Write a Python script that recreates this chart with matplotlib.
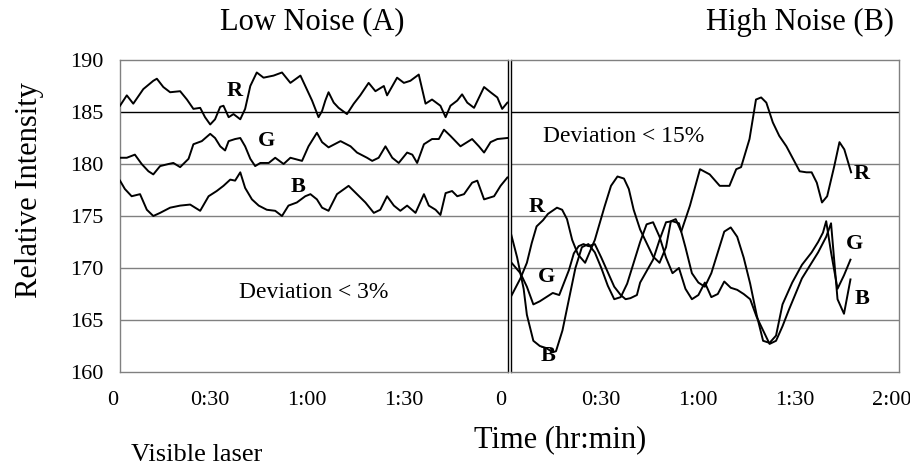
import matplotlib
matplotlib.use("Agg")
import matplotlib.pyplot as plt
import matplotlib.transforms as mtransforms

plt.rcParams['font.family'] = ['Liberation Serif', 'DejaVu Serif']

# time in minutes, intensity values
low_r_t = [0, 2.1, 4.1, 7.2, 10.3, 11.4, 13.4, 15.5, 18.6, 20.7, 22.7, 24.8, 26.3, 27.9, 29.4, 31.0,
           32.0, 33.6, 35.1, 37.2, 38.7, 40.3, 42.3, 44.4, 47.5, 50.1, 52.7, 55.8, 57.3, 59.4, 61.4,
           62.5, 63.5, 64.5, 66.1, 67.6, 70.2, 72.3, 74.3, 76.9, 79.0, 81.6, 82.6, 85.7, 87.8, 89.8,
           92.4, 94.5, 96.5, 99.1, 100.7, 102.2, 104.3, 105.8, 107.4, 109.5, 112.6, 114.6, 116.7,
           118.2, 119.8]
low_r = [185.6, 186.6, 185.8, 187.2, 188.0, 188.2, 187.4, 186.9, 187.0, 186.2, 185.3, 185.4, 184.5,
         183.8, 184.3, 185.5, 185.6, 184.5, 184.8, 184.3, 185.3, 187.5, 188.8, 188.3, 188.5, 188.8,
         187.8, 188.5, 187.5, 186.1, 184.5, 185.1, 186.1, 186.9, 185.9, 185.4, 184.8, 185.8, 186.6,
         187.8, 187.0, 187.5, 186.6, 188.3, 187.8, 188.0, 188.6, 185.8, 186.2, 185.6, 184.5, 185.6,
         186.1, 186.7, 185.9, 185.4, 187.4, 186.9, 186.4, 185.3, 185.9]

low_g_t = [0, 2.1, 4.6, 6.7, 8.8, 10.3, 12.4, 15.0, 16.5, 18.6, 21.2, 22.7, 25.3, 27.9, 29.4, 31.0,
           32.5, 33.6, 35.6, 37.2, 38.7, 40.3, 41.8, 43.4, 46.0, 48.0, 50.6, 52.7, 56.3, 58.3, 60.9,
           62.5, 64.5, 68.2, 71.3, 73.3, 76.4, 78.0, 80.0, 82.1, 84.2, 86.2, 88.8, 90.4, 91.9, 94.0,
           96.5, 98.6, 100.2, 102.2, 105.3, 108.9, 111.0, 112.6, 114.6, 116.7, 119.8]
low_g = [180.6, 180.6, 180.9, 180.0, 179.3, 179.0, 179.8, 180.0, 180.1, 179.7, 180.5, 181.9, 182.2,
         182.9, 182.5, 181.7, 181.3, 182.2, 182.4, 182.5, 181.7, 180.5, 179.8, 180.1, 180.1, 180.6,
         180.0, 180.6, 180.3, 181.7, 183.0, 182.1, 181.6, 182.2, 181.7, 181.1, 180.6, 180.3, 180.6,
         181.7, 180.6, 180.1, 181.1, 180.9, 180.1, 181.9, 182.4, 182.4, 183.3, 182.7, 181.7, 182.4,
         181.7, 181.1, 182.1, 182.4, 182.5]

low_b_t = [0, 1.5, 3.6, 6.2, 8.3, 10.3, 12.4, 15.5, 18.6, 21.7, 24.8, 27.4, 29.9, 32.0, 34.1, 35.6,
           37.2, 38.7, 40.8, 42.9, 45.4, 48.0, 50.1, 52.1, 54.7, 57.3, 58.9, 60.9, 62.5, 64.5, 67.1,
           70.7, 73.3, 75.9, 78.5, 80.5, 82.6, 84.7, 86.7, 88.8, 91.4, 94.0, 95.5, 97.6, 99.1, 100.7,
           102.7, 104.3, 106.4, 108.9, 110.5, 112.6, 115.7, 117.7, 119.8]
low_b = [178.4, 177.6, 176.9, 177.1, 175.6, 175.0, 175.3, 175.8, 176.0, 176.1, 175.5, 176.9, 177.4,
         177.9, 178.5, 178.4, 179.2, 177.7, 176.6, 176.0, 175.6, 175.5, 175.0, 176.0, 176.3, 176.9,
         177.1, 176.6, 175.8, 175.5, 177.1, 177.9, 177.1, 176.3, 175.3, 175.6, 176.9, 176.0, 175.5,
         176.0, 175.3, 177.1, 176.0, 175.6, 175.1, 177.2, 177.4, 176.9, 177.1, 178.2, 178.4, 176.6,
         176.9, 177.9, 178.7]

high_r_t = [0, 3, 5, 6.5, 8, 10, 11.5, 14.3, 15.9, 17.4, 19, 20.8, 23, 26, 29, 31, 33, 35, 36.5,
            38, 40, 42, 44, 46, 48, 49.5, 51, 52.7, 55.4, 58.5, 61.5, 64.6, 67.6, 69.7, 71.2, 73.8,
            75.8, 77.4, 79, 81, 83, 85.2, 89.3, 91.4, 93, 94.6, 96.2, 97.8, 100, 101.6, 103.1, 105.2]
high_r = [167.2, 169.0, 170.5, 172.4, 174.0, 174.6, 175.2, 175.8, 175.6, 174.7, 172.7, 171.3, 170.5,
          172.7, 175.9, 177.9, 178.8, 178.6, 177.6, 175.6, 173.7, 172.4, 171.1, 170.5, 172.0, 174.5,
          174.7, 173.5, 176.0, 179.5, 179.0, 177.9, 177.9, 179.5, 179.7, 182.4, 186.2, 186.4, 185.9,
          184.0, 182.7, 181.7, 179.3, 179.2, 179.2, 178.2, 176.3, 176.9, 179.8, 182.1, 181.4, 179.2]

high_g_t = [0, 3, 5, 7, 9, 11, 13, 15, 16, 18, 19.5, 21, 22.5, 24, 26, 28, 30, 32, 34, 35.5, 37, 39,
            40, 42, 44, 46, 48, 50, 52, 54, 56, 58, 60, 62, 64, 66, 68, 70, 72, 74, 76, 78, 80, 82,
            84, 87, 90, 93, 95, 96.5, 97.5, 99, 101, 103, 105]
high_g = [170.6, 169.5, 168.2, 166.5, 166.8, 167.2, 167.6, 167.4, 168.2, 169.8, 171.4, 172.1, 172.3,
          172.1, 172.3, 171.0, 169.6, 168.2, 167.4, 167.0, 167.1, 167.4, 168.6, 169.7, 170.8, 172.7,
          174.4, 174.5, 174.3, 172.0, 169.5, 168.6, 168.2, 169.5, 171.5, 173.5, 173.9, 173.0, 171.0,
          168.5, 165.5, 163.0, 162.8, 163.5, 166.5, 168.6, 170.3, 171.5, 172.5, 173.4, 174.5, 171.5,
          168.0, 169.3, 170.8]

high_b_t = [0, 2, 4, 5, 7, 9, 11, 13, 14, 16, 18, 20, 22, 24, 26, 28, 30, 32, 34, 36, 38, 40, 42,
            44, 46, 48, 50, 52, 54, 56, 58, 60, 62, 64, 66, 68, 70, 72, 74, 76, 78, 80, 82, 84, 86,
            88, 90, 93, 95, 97.5, 99, 101, 103, 105]
high_b = [173.4, 171.0, 168.0, 165.5, 163.0, 162.5, 162.3, 161.9, 162.0, 164.0, 167.0, 170.0, 172.0,
          172.3, 171.5, 170.0, 168.3, 167.0, 167.2, 168.5, 170.5, 172.5, 174.2, 174.4, 173.0, 171.0,
          169.5, 170.0, 168.0, 167.0, 167.4, 168.6, 167.2, 167.5, 168.7, 168.1, 167.9, 167.5, 167.0,
          165.3, 164.0, 162.7, 163.0, 164.4, 166.0, 167.5, 169.0, 170.5, 171.5, 173.0, 174.3, 167.0,
          165.6, 168.9]

y_ticks = [160, 165, 170, 175, 180, 185, 190]
left_xlabels = ['0', '0:30', '1:00', '1:30', '0']
right_xlabels = ['0:30', '1:00', '1:30', '2:00']

fig = plt.figure(figsize=(9.1, 4.72), dpi=100)
ax1 = fig.add_axes([120 / 910, 100 / 472, 388 / 910, 312 / 472])
ax2 = fig.add_axes([510.7 / 910, 100 / 472, 388.3 / 910, 312 / 472])

frame_c = '#808080'
for ax in (ax1, ax2):
    ax.set_xlim(0, 120)
    ax.set_ylim(160, 190)
    for y in y_ticks[1:-1]:
        ax.axhline(y, color='black' if y == 185 else frame_c, lw=1.0, zorder=1)
    for s in ax.spines.values():
        s.set_color(frame_c)
        s.set_linewidth(1.0)
    ax.tick_params(axis='y', length=0)
    ax.tick_params(axis='x', which='major', length=0, pad=14, labelsize=16)
    ax.tick_params(axis='x', which='minor', length=4, direction='out', color=frame_c)

ax2.spines['left'].set_color('black')
ax1.spines['right'].set_color('black')

ax1.set_yticks(y_ticks)
ax1.set_yticklabels([str(v) for v in y_ticks], fontsize=16)
ax1.tick_params(axis='y', pad=12)
ax2.set_yticks([])

ax1.set_xticks([0, 30, 60, 90, 120])
ax1.set_xticklabels(left_xlabels)
ax1.set_xticks([30, 90], minor=True)
ax2.set_xticks([30, 60, 90, 120])
ax2.set_xticklabels(right_xlabels)
ax2.set_xticks([30, 60, 90, 120], minor=True)
ax2.tick_params(axis='x', which='minor', labelbottom=False)
ax1.tick_params(axis='x', which='minor', labelbottom=False)

# nudge the time labels slightly left of their ticks
shift = mtransforms.ScaledTranslation(-7 / 100, 0, fig.dpi_scale_trans)
for ax in (ax1, ax2):
    for lab in ax.get_xticklabels():
        lab.set_transform(lab.get_transform() + shift)

lw = 1.4
ax1.plot(low_r_t, low_r, color='black', lw=lw, zorder=3)
ax1.plot(low_g_t, low_g, color='black', lw=lw, zorder=3)
ax1.plot(low_b_t, low_b, color='black', lw=lw, zorder=3)
ax2.plot(high_r_t, high_r, color='black', lw=lw, zorder=3)
ax2.plot(high_g_t, high_g, color='black', lw=lw, zorder=3)
ax2.plot(high_b_t, high_b, color='black', lw=lw, zorder=3)

lbl = dict(fontsize=16, fontweight='bold', ha='center', va='center', zorder=4)
ax1.text(35.4, 187.0, 'R', **lbl)
ax1.text(45.3, 182.2, 'G', **lbl)
ax1.text(55.0, 177.8, 'B', **lbl)
ax2.text(8.1, 175.9, 'R', **lbl)
ax2.text(108.6, 179.0, 'R', **lbl)
ax2.text(11.2, 169.1, 'G', **lbl)
ax2.text(106.4, 172.3, 'G', **lbl)
ax2.text(11.5, 161.5, 'B', **lbl)
ax2.text(108.6, 167.0, 'B', **lbl)

ax1.text(59.9, 167.6, 'Deviation < 3%', fontsize=17, ha='center', va='center')
ax2.text(35, 182.6, 'Deviation < 15%', fontsize=17, ha='center', va='center')

fig.text(312 / 910, 1 - 22 / 472, 'Low Noise (A)', fontsize=22, ha='center', va='center')
fig.text(800 / 910, 1 - 22 / 472, 'High Noise (B)', fontsize=22, ha='center', va='center')
fig.text(30 / 910, 1 - 190 / 472, 'Relative Intensity', fontsize=22, rotation=90,
         ha='center', va='center')
fig.text(560 / 910, 1 - 440 / 472, 'Time (hr:min)', fontsize=22, ha='center', va='center')
fig.text(197 / 910, 1 - 455 / 472, 'Visible laser', fontsize=19, ha='center', va='center')

fig.savefig('out.png', dpi=100, facecolor='white')
